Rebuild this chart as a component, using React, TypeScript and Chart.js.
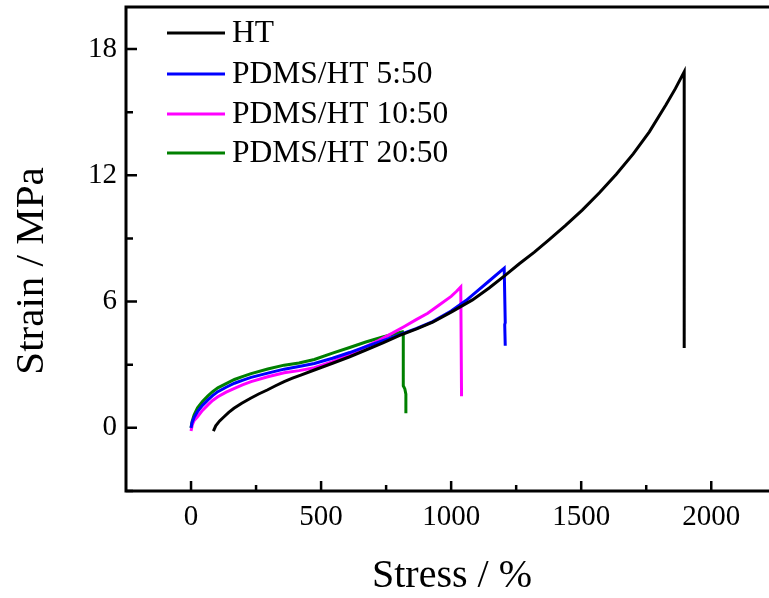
import React, { useEffect, useRef } from "react";
import { Chart, registerables } from "chart.js";

Chart.register(...registerables);

// ---- data (x: Stress / %, y: Strain / MPa as labelled in the reference) ----
const seriesNames = ["HT", "PDMS/HT 5:50", "PDMS/HT 10:50", "PDMS/HT 20:50"];
const seriesColors = ["#000000", "#0000ff", "#ff00ff", "#008000"];

const htX = [86, 95, 110, 127, 145, 165, 195, 229, 260, 293, 325, 358, 390, 422, 474, 544, 610, 672, 740, 800, 870, 929, 1000, 1082, 1146, 1210, 1262, 1320, 1377, 1440, 1504, 1570, 1635, 1700, 1762, 1826, 1862, 1896, 1896];
const htY = [-0.15, 0.1, 0.33, 0.53, 0.74, 0.93, 1.17, 1.41, 1.61, 1.8, 2.0, 2.2, 2.36, 2.51, 2.75, 3.07, 3.38, 3.7, 4.05, 4.38, 4.72, 5.02, 5.5, 6.08, 6.65, 7.27, 7.8, 8.35, 8.95, 9.62, 10.35, 11.17, 12.05, 13.02, 14.07, 15.35, 16.12, 16.92, 3.8];

const b5X = [0, 4, 12, 25, 44, 65, 83, 103, 135, 167, 200, 231, 295, 358, 415, 474, 544, 610, 672, 740, 800, 865, 929, 1000, 1057, 1100, 1146, 1204, 1208, 1206, 1208];
const b5Y = [0, 0.25, 0.5, 0.77, 1.07, 1.33, 1.53, 1.72, 1.93, 2.12, 2.27, 2.4, 2.6, 2.79, 2.92, 3.06, 3.31, 3.58, 3.86, 4.15, 4.42, 4.72, 5.05, 5.55, 6.05, 6.5, 6.98, 7.59, 5.0, 4.9, 3.9];

const m10X = [0, 5, 12, 25, 44, 65, 83, 103, 135, 167, 200, 231, 295, 358, 415, 474, 544, 610, 672, 720, 774, 820, 864, 910, 954, 1000, 1020, 1037, 1040];
const m10Y = [-0.15, 0.15, 0.35, 0.53, 0.83, 1.09, 1.3, 1.48, 1.7, 1.88, 2.05, 2.2, 2.43, 2.62, 2.72, 2.86, 3.15, 3.5, 3.86, 4.15, 4.5, 4.82, 5.13, 5.45, 5.84, 6.25, 6.48, 6.7, 1.5];

const g20X = [0, 4, 12, 25, 44, 65, 83, 103, 135, 167, 200, 231, 295, 358, 415, 474, 544, 610, 672, 740, 813, 816, 816, 822, 826, 826];
const g20Y = [0, 0.3, 0.62, 0.95, 1.25, 1.52, 1.72, 1.9, 2.1, 2.3, 2.45, 2.58, 2.8, 2.98, 3.08, 3.25, 3.55, 3.82, 4.08, 4.33, 4.57, 4.45, 2.0, 1.85, 1.6, 0.7];

const seriesX = [htX, b5X, m10X, g20X];
const seriesY = [htY, b5Y, m10Y, g20Y];

const xTicks = [0, 500, 1000, 1500, 2000];
const xMinorTicks = [250, 750, 1250, 1750];
const yTicks = [0, 6, 12, 18];
const yMinorTicks = [-3, 3, 9, 15];

const xTitle = "Stress / %";
const yTitle = "Strain / MPa";

const FONT = "'Liberation Serif', 'DejaVu Serif', serif";

const framePlugin = {
  id: "frame",
  afterDraw(chart: any) {
    const { ctx, chartArea } = chart;
    const { left, right, top, bottom } = chartArea;
    const xs = chart.scales.x;
    const ys = chart.scales.y;
    ctx.save();
    ctx.strokeStyle = "#000";
    ctx.lineWidth = 3;
    ctx.beginPath();
    ctx.moveTo(left, top - 1.5);
    ctx.lineTo(left, bottom + 1.5);
    ctx.moveTo(left, bottom);
    ctx.lineTo(right, bottom);
    ctx.moveTo(left, top);
    ctx.lineTo(right, top);
    ctx.stroke();

    ctx.lineWidth = 2.5;
    ctx.beginPath();
    for (const v of xTicks) {
      const px = xs.getPixelForValue(v);
      ctx.moveTo(px, bottom);
      ctx.lineTo(px, bottom - 10);
    }
    for (const v of xMinorTicks) {
      const px = xs.getPixelForValue(v);
      ctx.moveTo(px, bottom);
      ctx.lineTo(px, bottom - 6);
    }
    for (const v of yTicks) {
      const py = ys.getPixelForValue(v);
      ctx.moveTo(left, py);
      ctx.lineTo(left + 11, py);
    }
    for (const v of yMinorTicks) {
      const py = ys.getPixelForValue(v);
      ctx.moveTo(left, py);
      ctx.lineTo(left + 7, py);
    }
    ctx.stroke();

    // legend
    const rows = [33, 74, 114, 153];
    ctx.font = `31.5px ${FONT}`;
    ctx.textBaseline = "middle";
    ctx.textAlign = "left";
    seriesNames.forEach((name, i) => {
      ctx.strokeStyle = seriesColors[i];
      ctx.lineWidth = 3;
      ctx.beginPath();
      ctx.moveTo(167, rows[i]);
      ctx.lineTo(225, rows[i]);
      ctx.stroke();
      ctx.fillStyle = "#000";
      ctx.fillText(name, 232, rows[i] + 1);
    });

    // axis titles
    ctx.font = `40px ${FONT}`;
    ctx.fillStyle = "#000";
    ctx.textAlign = "center";
    ctx.textBaseline = "alphabetic";
    ctx.fillText(xTitle, 452, 587);
    ctx.save();
    ctx.font = `41px ${FONT}`;
    ctx.translate(43, 271);
    ctx.rotate(-Math.PI / 2);
    ctx.fillText(yTitle, 0, 0);
    ctx.restore();
    ctx.restore();
  },
};

export default function App() {
  const ref = useRef<HTMLCanvasElement | null>(null);
  useEffect(() => {
    if (!ref.current) return;
    const datasets = seriesNames.map((name, i) => ({
      label: name,
      data: seriesX[i].map((x, j) => ({ x, y: seriesY[i][j] })),
      borderColor: seriesColors[i],
      backgroundColor: seriesColors[i],
      borderWidth: 3,
      pointRadius: 0,
      tension: 0,
      fill: false,
    }));
    const chart = new Chart(ref.current, {
      type: "line",
      data: { datasets },
      plugins: [framePlugin],
      options: {
        animation: false,
        responsive: false,
        layout: { padding: { top: 7, right: 0, left: 0, bottom: 0 } },
        plugins: { legend: { display: false }, tooltip: { enabled: false } },
        scales: {
          x: {
            type: "linear",
            min: -250,
            max: 2222,
            afterBuildTicks: (s: any) => {
              s.ticks = xTicks.map((v) => ({ value: v }));
            },
            afterFit: (s: any) => {
              s.height = 107;
              s.paddingLeft = 0;
              s.paddingRight = 0;
            },
            ticks: {
              autoSkip: false,
              maxRotation: 0,
              padding: 9,
              color: "#000",
              font: { family: FONT, size: 29 },
              callback: (v: any) => String(v),
            },
            grid: { display: false, drawTicks: false },
            border: { display: false },
          },
          y: {
            type: "linear",
            min: -3,
            max: 20,
            afterBuildTicks: (s: any) => {
              s.ticks = yTicks.map((v) => ({ value: v }));
            },
            afterFit: (s: any) => {
              s.width = 126;
              s.paddingTop = 0;
              s.paddingBottom = 0;
            },
            ticks: {
              autoSkip: false,
              padding: 9,
              color: "#000",
              font: { family: FONT, size: 29 },
              callback: (v: any) => String(v),
            },
            grid: { display: false, drawTicks: false },
            border: { display: false },
          },
        },
      } as any,
    });
    return () => chart.destroy();
  }, []);
  return (
    <div style={{ position: "fixed", left: 0, top: 0, width: 769, height: 598, background: "#fff" }}>
      <canvas ref={ref} width={769} height={598} />
    </div>
  );
}
